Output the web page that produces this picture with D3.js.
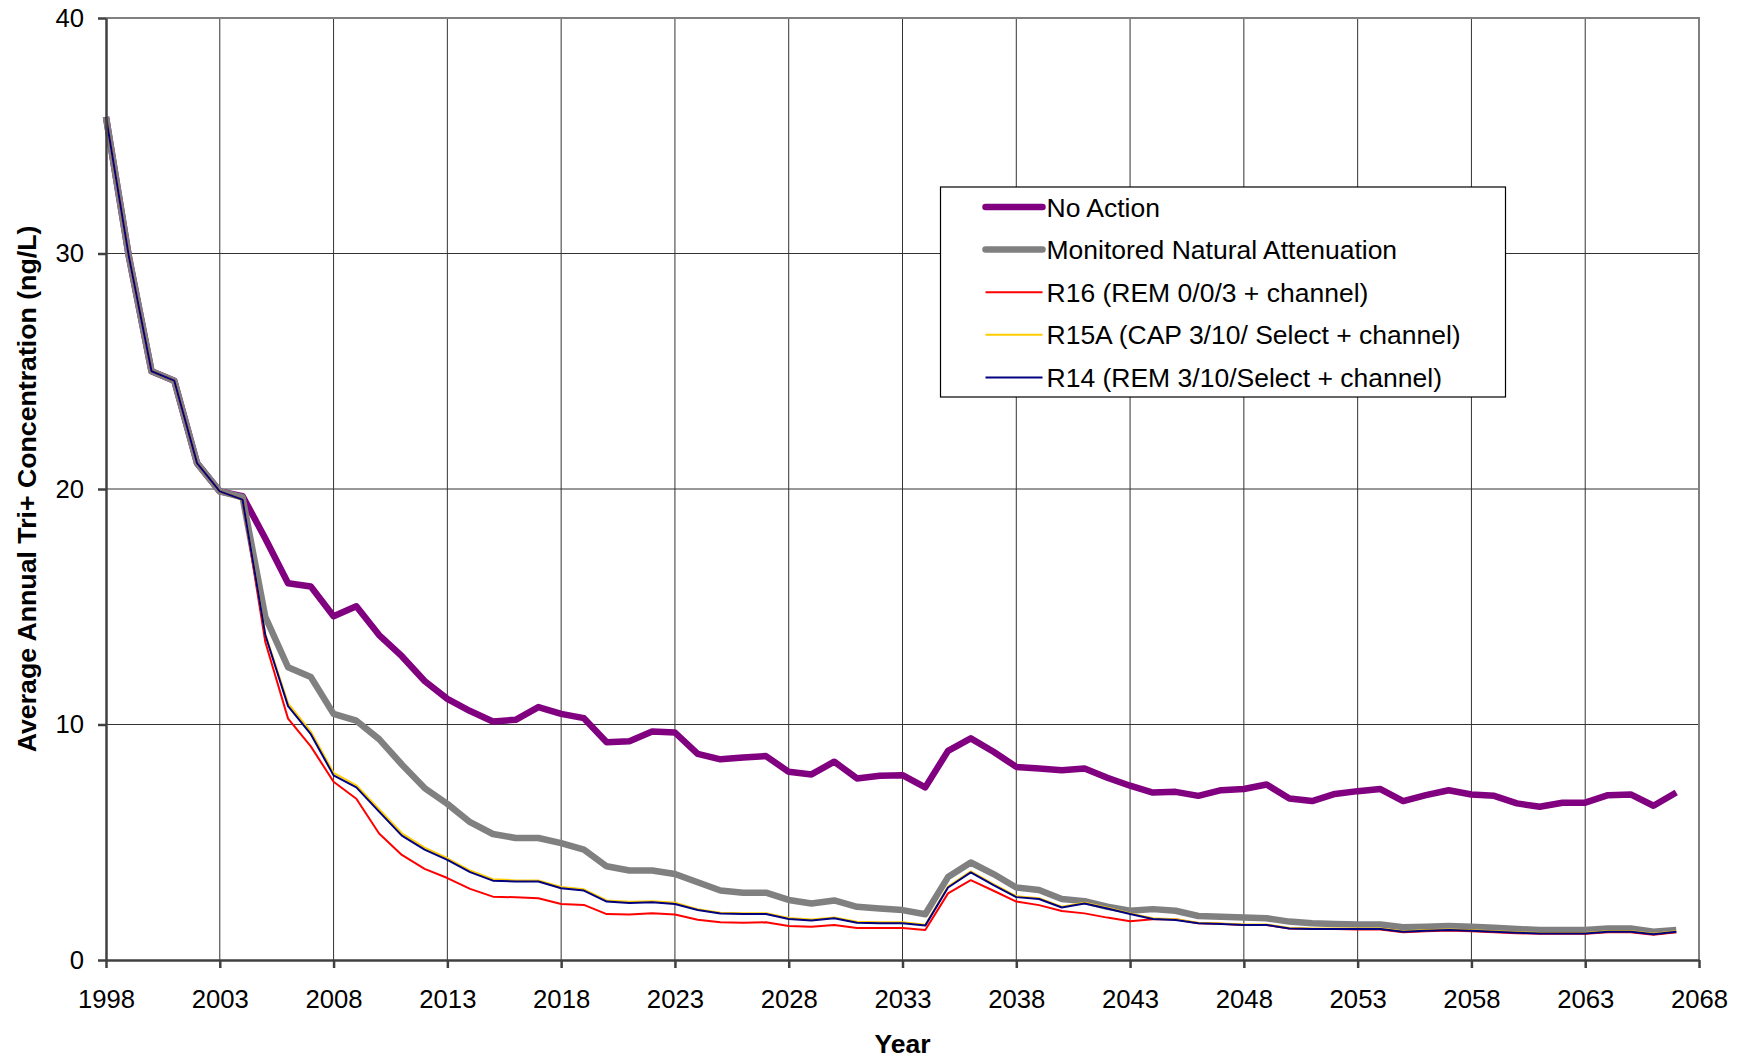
<!DOCTYPE html>
<html>
<head>
<meta charset="utf-8">
<script src="https://cdn.jsdelivr.net/npm/d3@7"></script>
<style>
  body { margin: 0; background: #fff; }
  svg { display: block; font-family: Arial, "Liberation Sans", sans-serif; }
  .grid line { stroke: #333; stroke-width: 1; }
  .axis text { font-size: 25.7px; fill: #000; }
  .axis path, .axis line { stroke: #404040; stroke-width: 2.5; }
</style>
</head>
<body>
<svg id="chart"></svg>
<script>
// data
const years = d3.range(1998, 2068);

const noAction = [
  35.8, 29.9, 25.0, 24.6, 21.1, 19.9, 19.7, 17.9, 16.0, 15.86,
  14.6, 15.02, 13.8, 12.9, 11.85, 11.09, 10.57, 10.13, 10.2, 10.74,
  10.45, 10.27, 9.25, 9.29, 9.7, 9.66, 8.75, 8.52, 8.6, 8.66,
  7.99, 7.88, 8.42, 7.71, 7.82, 7.85, 7.33, 8.88, 9.41, 8.84,
  8.2, 8.13, 8.06, 8.13, 7.74, 7.4, 7.11, 7.14, 6.97, 7.21,
  7.26, 7.45, 6.86, 6.75, 7.05, 7.17, 7.26, 6.75, 7.0, 7.21,
  7.03, 6.97, 6.65, 6.51, 6.68, 6.68, 7.0, 7.03, 6.55, 7.11
];

const mna = [
  35.8, 29.9, 25.0, 24.6, 21.1, 19.9, 19.65, 14.57, 12.43, 12.02,
  10.45, 10.16, 9.38, 8.3, 7.3, 6.63, 5.85, 5.35, 5.18, 5.18,
  4.96, 4.69, 3.98, 3.8, 3.8, 3.65, 3.3, 2.95, 2.86, 2.86,
  2.55, 2.4, 2.53, 2.26, 2.19, 2.12, 1.94, 3.52, 4.14, 3.65,
  3.08, 2.97, 2.59, 2.5, 2.26, 2.09, 2.16, 2.09, 1.87, 1.84,
  1.8, 1.77, 1.63, 1.56, 1.53, 1.51, 1.51, 1.39, 1.41, 1.44,
  1.41, 1.37, 1.32, 1.27, 1.27, 1.27, 1.34, 1.34, 1.2, 1.27
];

const r16 = [
  35.8, 29.9, 25.0, 24.6, 21.1, 19.9, 19.55, 13.5, 10.25, 9.07,
  7.57, 6.85, 5.37, 4.46, 3.87, 3.48, 3.02, 2.69, 2.66, 2.62,
  2.38, 2.34, 1.95, 1.93, 1.98, 1.93, 1.71, 1.6, 1.58, 1.6,
  1.44, 1.41, 1.49, 1.36, 1.36, 1.36, 1.27, 2.83, 3.39, 2.94,
  2.48, 2.33, 2.08, 1.98, 1.8, 1.65, 1.73, 1.73, 1.56, 1.54,
  1.49, 1.49, 1.34, 1.32, 1.32, 1.3, 1.3, 1.18, 1.22, 1.25,
  1.22, 1.18, 1.14, 1.11, 1.11, 1.11, 1.18, 1.18, 1.07, 1.18
];

const r15a = [
  35.8, 29.9, 25.0, 24.6, 21.1, 19.9, 19.55, 13.85, 10.9, 9.7,
  7.95, 7.42, 6.4, 5.38, 4.77, 4.32, 3.8, 3.43, 3.38, 3.38,
  3.1, 3.0, 2.53, 2.47, 2.5, 2.43, 2.16, 2.01, 1.99, 1.99,
  1.78, 1.72, 1.81, 1.62, 1.6, 1.6, 1.5, 3.12, 3.76, 3.22,
  2.71, 2.62, 2.26, 2.43, 2.22, 1.98, 1.77, 1.73, 1.58, 1.55,
  1.51, 1.51, 1.36, 1.34, 1.34, 1.34, 1.34, 1.22, 1.26, 1.29,
  1.26, 1.22, 1.18, 1.15, 1.15, 1.15, 1.22, 1.22, 1.11, 1.22
];

const r14 = [
  35.8, 29.9, 25.0, 24.6, 21.1, 19.9, 19.55, 13.8, 10.78, 9.59,
  7.84, 7.33, 6.3, 5.28, 4.69, 4.25, 3.73, 3.37, 3.33, 3.33,
  3.05, 2.95, 2.48, 2.42, 2.45, 2.38, 2.12, 1.97, 1.95, 1.95,
  1.74, 1.68, 1.77, 1.58, 1.56, 1.56, 1.46, 3.08, 3.72, 3.18,
  2.67, 2.59, 2.23, 2.4, 2.19, 1.95, 1.74, 1.7, 1.56, 1.53,
  1.49, 1.49, 1.34, 1.32, 1.32, 1.32, 1.32, 1.2, 1.24, 1.27,
  1.24, 1.2, 1.16, 1.13, 1.13, 1.13, 1.2, 1.2, 1.09, 1.2
];

const seriesNames = [
  "No Action",
  "Monitored Natural Attenuation",
  "R16 (REM 0/0/3 + channel)",
  "R15A (CAP 3/10/ Select + channel)",
  "R14 (REM 3/10/Select + channel)"
];
const seriesValues = [noAction, mna, r16, r15a, r14];
const seriesColors = ["#800080", "#808080", "#ff0000", "#ffcc00", "#000080"];
const seriesWidths = [6.5, 6.5, 2, 2, 2];

const xTicks = d3.range(1998, 2069, 5);
const yTicks = [0, 10, 20, 30, 40];

// layout
const w = 1745;
const h = 1060;
const margin = { top: 18, right: 46, bottom: 100, left: 106 };

const svg = d3.select("#chart")
  .attr("width", w)
  .attr("height", h);

const x = d3.scaleLinear()
  .domain([1998, 2068])
  .range([margin.left, w - margin.right]);

const y = d3.scaleLinear()
  .domain([0, 40])
  .range([h - margin.bottom, margin.top]);

// grid lines
const grid = svg.append("g").attr("class", "grid");
grid.selectAll(".vg")
  .data(xTicks.slice(1, -1))
  .enter().append("line")
  .attr("x1", d => x(d)).attr("x2", d => x(d))
  .attr("y1", y(0)).attr("y2", y(40));
grid.selectAll(".hg")
  .data(yTicks.slice(1, -1))
  .enter().append("line")
  .attr("x1", x(1998)).attr("x2", x(2068))
  .attr("y1", d => y(d)).attr("y2", d => y(d));

// plot border (top and right)
svg.append("path")
  .attr("d", `M${x(1998)},${y(40)}H${x(2068)}V${y(0)}`)
  .attr("fill", "none")
  .attr("stroke", "#808080")
  .attr("stroke-width", 2);

// series lines
const line = d3.line()
  .x((d, i) => x(years[i]))
  .y(d => y(d));

svg.append("g")
  .selectAll("path")
  .data(seriesValues)
  .enter().append("path")
  .attr("d", d => line(d))
  .attr("fill", "none")
  .attr("stroke", (d, i) => seriesColors[i])
  .attr("stroke-width", (d, i) => seriesWidths[i])
  .attr("stroke-linejoin", "round");

// x axis
const xAxis = d3.axisBottom(x)
  .tickValues(xTicks)
  .tickFormat(d3.format("d"))
  .tickSize(8)
  .tickSizeOuter(0)
  .tickPadding(22);

svg.append("g")
  .attr("class", "axis")
  .attr("transform", `translate(0,${y(0)})`)
  .call(xAxis);

// y axis
const yAxis = d3.axisLeft(y)
  .tickValues(yTicks)
  .tickSize(8)
  .tickSizeOuter(0)
  .tickPadding(14);

svg.append("g")
  .attr("class", "axis")
  .attr("transform", `translate(${x(1998)},0)`)
  .call(yAxis);

// axis titles
svg.append("text")
  .attr("transform", `translate(27,${(y(0) + y(40)) / 2}) rotate(-90)`)
  .attr("text-anchor", "middle")
  .attr("dominant-baseline", "central")
  .style("font-size", "26.7px")
  .style("font-weight", "bold")
  .text("Average Annual Tri+ Concentration (ng/L)");

svg.append("text")
  .attr("x", (x(1998) + x(2068)) / 2)
  .attr("y", 1053)
  .attr("text-anchor", "middle")
  .style("font-size", "26.5px")
  .style("font-weight", "bold")
  .text("Year");

// legend
const legend = svg.append("g").attr("transform", "translate(940.5,187)");
legend.append("rect")
  .attr("width", 565)
  .attr("height", 210)
  .attr("fill", "#fff")
  .attr("stroke", "#000")
  .attr("stroke-width", 1.2);

const rows = legend.selectAll(".row")
  .data(seriesNames)
  .enter().append("g")
  .attr("transform", (d, i) => `translate(0,${20 + i * 42.6})`);

rows.append("line")
  .attr("x1", 45).attr("x2", 102)
  .attr("stroke", (d, i) => seriesColors[i])
  .attr("stroke-width", (d, i) => seriesWidths[i])
  .attr("stroke-linecap", (d, i) => i < 2 ? "round" : "butt");

rows.append("text")
  .attr("x", 106)
  .attr("dy", "0.36em")
  .style("font-size", "26.5px")
  .text(d => d);
</script>
</body>
</html>
